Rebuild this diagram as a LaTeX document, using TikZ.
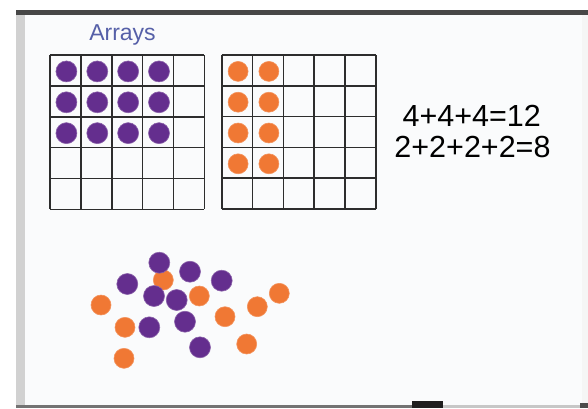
\documentclass[tikz,border=0pt]{standalone}
\usepackage{fontspec}
\setmainfont{Liberation Sans}
\usetikzlibrary{positioning}
\definecolor{dotpurple}{RGB}{100,46,142}
\definecolor{dotorange}{RGB}{240,120,52}
\definecolor{inkblue}{RGB}{86,96,168}
\definecolor{gridink}{RGB}{45,45,45}
\definecolor{boardwhite}{RGB}{250,251,252}
\tikzset{
  purpledot/.style={circle, fill=dotpurple, draw=dotpurple!75!white, line width=0.6pt, minimum size=21pt, inner sep=0pt},
  orangedot/.style={circle, fill=dotorange, draw=dotorange!80!white, line width=0.6pt, minimum size=20pt, inner sep=0pt},
  gridline/.style={draw=gridink, line width=1.6pt},
  sumtext/.style={font=\fontsize{30.5}{33}\selectfont, anchor=base, inner sep=0pt},
}

\begin{document}
\begin{tikzpicture}[x=1pt, y=-1pt]
  \useasboundingbox (0,0) rectangle (588,408);
  % whiteboard
  \fill[white] (0,0) rectangle (588,408);
  \fill[boardwhite] (16,14) rectangle (588,406);
  \fill[black!18] (16,14) rectangle (25,406);
  \fill[black!4] (582,14) rectangle (588,404);
  \fill[black!72] (16,10) rectangle (588,15);
  \fill[black!55] (16,405) rectangle (412,408);
  \fill[black!88] (412,401) rectangle (443,408);
  \fill[black!22] (443,405) rectangle (580,408);
  \fill[black!70] (580,403) rectangle (588,408);

  \node[font=\fontsize{23}{26}\selectfont, text=inkblue, anchor=base, inner sep=0pt] (title) at (122.5,40) {Arrays};

  % the two 5x5 grids
  \foreach \k in {0,...,5} {
    \draw[gridline] ({50+30.86*\k},55) -- ++(0,154.3);
    \draw[gridline] (50,{55+30.86*\k}) -- ++(154.3,0);
    \draw[gridline] ({221.7+30.8*\k},55) -- ++(0,154);
    \draw[gridline] (221.7,{55+30.8*\k}) -- ++(154,0);
  }

  % 3 rows of 4
  \foreach \r in {1,2,3}
    \foreach \c in {1,...,4}
      \node[purpledot] (p\r\c) at ({50+30.86*(\c-0.5)+1},{55+30.86*(\r-0.5)+1}) {};
  % 4 rows of 2
  \foreach \r in {1,...,4}
    \foreach \c in {1,2}
      \node[orangedot] (o\r\c) at ({221.7+30.8*(\c-0.5)+1},{55+30.8*(\r-0.5)+1}) {};

  \node[sumtext] (eq1) at (471.7,126) {4+4+4=12};
  \node[sumtext] (eq2) at (472.5,157.7) {2+2+2+2=8};

  % loose counters
  \foreach \x/\y [count=\n] in {163.3/280, 199.3/296, 101/305, 279.3/293.3, 257.3/306.7,
                                225/316.7, 125/327.3, 246.7/344, 124/358.3}
    \node[orangedot] (so\n) at (\x,\y) {};
  \foreach \x/\y [count=\n] in {159.3/262.7, 190/271.7, 221.7/280.7, 127.3/284, 154/296,
                                176.7/300, 149.3/327.3, 185/321.7, 200/347.3}
    \node[purpledot] (sp\n) at (\x,\y) {};
\end{tikzpicture}
\end{document}
